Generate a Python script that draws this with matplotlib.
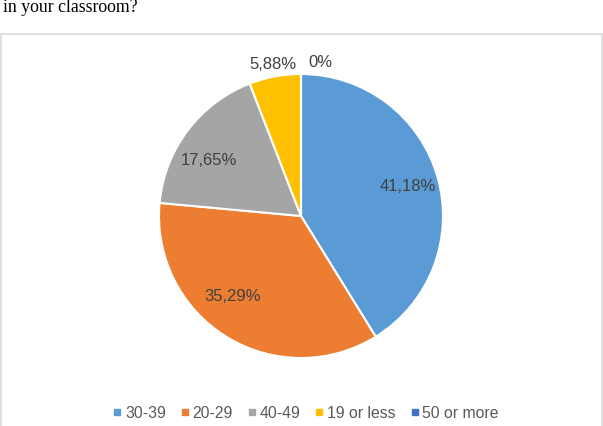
import numpy as np
import matplotlib.pyplot as plt
from matplotlib.patches import Rectangle
from matplotlib.lines import Line2D

plt.rcParams['font.family'] = ['Liberation Sans', 'DejaVu Sans']

# Class size survey shares
categories = ["30-39", "20-29", "40-49", "19 or less", "50 or more"]
shares = [41.18, 35.29, 17.65, 5.88, 0.0]
labels = ["41,18%", "35,29%", "17,65%", "5,88%", "0%"]
colors = ["#5B9BD5", "#ED7D31", "#A5A5A5", "#FFC000", "#4472C4"]

W, H = 603, 427
fig = plt.figure(figsize=(W / 100, H / 100), dpi=100)

# caption line of the question
fig.text(3 / W, 1 - 12 / H, "in your classroom?", family="Liberation Serif",
         fontsize=12.8, color="black", va="baseline", ha="left")

# chart area border
fig.patches.append(Rectangle((1 / W, -0.05), 601 / W, 1.05 - 35 / H,
                             transform=fig.transFigure, fill=False,
                             edgecolor="#D9D9D9", linewidth=1.2))

# pie axes, square in pixels
cx, cy, r = 301, 217, 142
ax = fig.add_axes([(cx - r) / W, (H - cy - r) / H, 2 * r / W, 2 * r / H])
wedges, _ = ax.pie(shares, colors=colors, startangle=90, counterclock=False,
                   wedgeprops=dict(edgecolor="white", linewidth=1.5))
ax.set_xlim(-1, 1)
ax.set_ylim(-1, 1)
ax.set_aspect("equal")
ax.axis("off")

# label placement: distance from centre and small angular nudges (best-fit look)
dist = [0.78, 0.74, 0.76, 1.09, 1.09]
nudge = [0, -9, 5.5, 0, 0]
for w, lab, val, d, n in zip(wedges, labels, shares, dist, nudge):
    mid = np.deg2rad((w.theta1 + w.theta2) / 2 + n)
    x, y = d * np.cos(mid), d * np.sin(mid)
    ha = "center"
    if val == 0:
        x += 0.05
        ha = "left"
    ax.text(x, y, lab, ha=ha, va="center", fontsize=12, color="#404040")

handles = [Line2D([], [], marker="s", linestyle="none", markersize=5,
                  markerfacecolor=c, markeredgecolor=c) for c in colors]
fig.legend(handles, categories, loc="center", bbox_to_anchor=(305 / W, 1 - 414 / H),
           ncol=5, frameon=False, fontsize=11.3, labelcolor="#595959",
           handletextpad=0.1, columnspacing=0.8, handlelength=0.8)

fig.savefig("out.png", dpi=100)
